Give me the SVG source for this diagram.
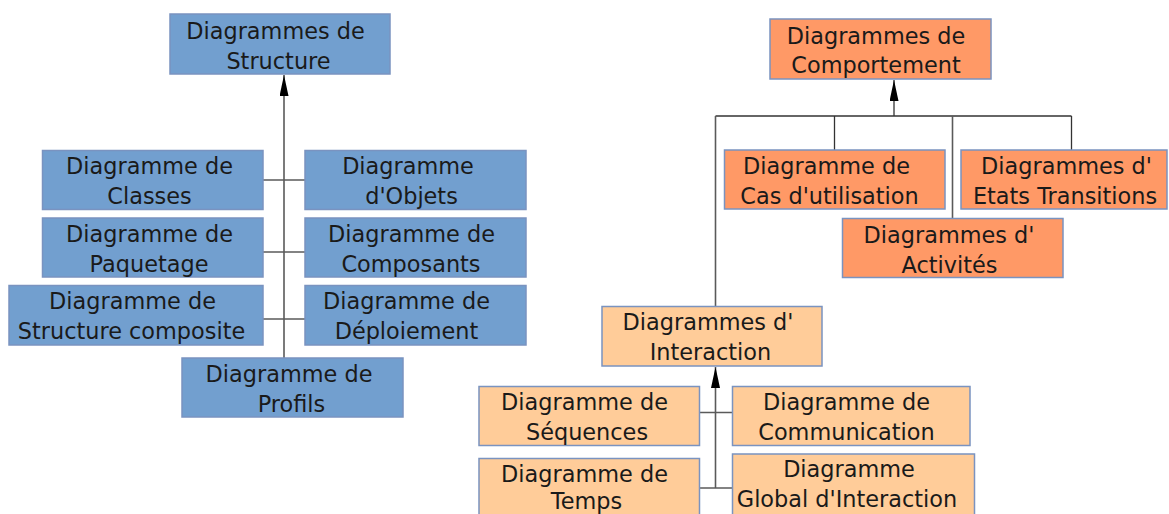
<svg xmlns="http://www.w3.org/2000/svg" width="1169" height="514" viewBox="0 0 1169 514">
<style>
  .box rect { stroke: #7a93c0; stroke-width: 1.5; }
  .blue rect { fill: #729fcf; }
  .dark rect { fill: #ff9966; }
  .light rect { fill: #ffcc99; }
  text { font-family: "DejaVu Sans", "Liberation Sans", sans-serif; font-size: 22.4px; fill: #1a1a1a; text-anchor: middle; }
  .conn line { stroke: #5a5a5a; stroke-width: 1.6; fill: none; }
  .conn line.dark { stroke: #333; stroke-width: 1.3; }
</style>
<defs>
  <marker id="arrow" markerUnits="userSpaceOnUse" markerWidth="21" markerHeight="9" viewBox="0 0 21 9" refX="21" refY="4.5" orient="auto">
    <path d="M0,0 L21,4.5 L0,9 z" fill="#000"/>
  </marker>
</defs>

<g id="connectors" class="conn">
  <line x1="284" y1="358" x2="284" y2="75" marker-end="url(#arrow)"/>
  <line x1="263" y1="180" x2="305" y2="180"/>
  <line x1="263" y1="252" x2="305" y2="252"/>
  <line x1="263" y1="319" x2="305" y2="319"/>

  <line x1="894" y1="116" x2="894" y2="80" marker-end="url(#arrow)"/>
  <line class="dark" x1="715.5" y1="116" x2="1071.5" y2="116"/>
  <line class="dark" x1="834.5" y1="116" x2="834.5" y2="150"/>
  <line x1="952.5" y1="116" x2="952.5" y2="218.5"/>
  <line class="dark" x1="1071.5" y1="116" x2="1071.5" y2="150"/>
  <line x1="715.5" y1="116" x2="715.5" y2="306.5"/>

  <line x1="715.5" y1="488" x2="715.5" y2="367" marker-end="url(#arrow)"/>
  <line x1="699.5" y1="412.5" x2="732.5" y2="412.5"/>
  <line x1="699.5" y1="488" x2="732.5" y2="488"/>
</g>

<g id="structure" class="box blue">
  <rect x="170" y="14" width="220" height="60"/>
  <text x="275.5" y="38.5">Diagrammes de</text>
  <text x="278.5" y="68.5">Structure</text>
</g>
<g id="classes" class="box blue">
  <rect x="42.5" y="150.5" width="220.5" height="59"/>
  <text x="149.5" y="174">Diagramme de</text>
  <text x="149.5" y="204">Classes</text>
</g>
<g id="objets" class="box blue">
  <rect x="305" y="150.5" width="221" height="59"/>
  <text x="408" y="174">Diagramme</text>
  <text x="411.5" y="204">d'Objets</text>
</g>
<g id="paquetage" class="box blue">
  <rect x="42.5" y="218" width="220.5" height="59"/>
  <text x="149.5" y="242">Diagramme de</text>
  <text x="149" y="272">Paquetage</text>
</g>
<g id="composants" class="box blue">
  <rect x="305" y="218" width="221" height="59"/>
  <text x="411.5" y="242">Diagramme de</text>
  <text x="411" y="272">Composants</text>
</g>
<g id="structure-composite" class="box blue">
  <rect x="9" y="285.5" width="254" height="59.5"/>
  <text x="132.5" y="309">Diagramme de</text>
  <text x="131.5" y="339">Structure composite</text>
</g>
<g id="deploiement" class="box blue">
  <rect x="305" y="285.5" width="221" height="59.5"/>
  <text x="406.5" y="309">Diagramme de</text>
  <text x="406.5" y="339">Déploiement</text>
</g>
<g id="profils" class="box blue">
  <rect x="182" y="358" width="221" height="59"/>
  <text x="289" y="381.5">Diagramme de</text>
  <text x="291.5" y="411.5">Profils</text>
</g>

<g id="comportement" class="box dark">
  <rect x="770" y="19" width="221" height="60"/>
  <text x="876" y="43.5">Diagrammes de</text>
  <text x="876" y="73">Comportement</text>
</g>
<g id="cas-utilisation" class="box dark">
  <rect x="724.5" y="150" width="220.5" height="59"/>
  <text x="826.5" y="174">Diagramme de</text>
  <text x="829.5" y="204">Cas d'utilisation</text>
</g>
<g id="etats-transitions" class="box dark">
  <rect x="961" y="150" width="206" height="59"/>
  <text x="1066.5" y="174">Diagrammes d'</text>
  <text x="1065" y="204">Etats Transitions</text>
</g>
<g id="activites" class="box dark">
  <rect x="842.5" y="218.5" width="220.5" height="59"/>
  <text x="949" y="242.5">Diagrammes d'</text>
  <text x="949.5" y="272.5">Activités</text>
</g>

<g id="interaction" class="box light">
  <rect x="602" y="306.5" width="220" height="59.5"/>
  <text x="708" y="330">Diagrammes d'</text>
  <text x="710.5" y="359.5">Interaction</text>
</g>
<g id="sequences" class="box light">
  <rect x="479" y="386.5" width="220.5" height="59"/>
  <text x="584.5" y="410">Diagramme de</text>
  <text x="587" y="440">Séquences</text>
</g>
<g id="communication" class="box light">
  <rect x="732.5" y="386.5" width="237.5" height="59"/>
  <text x="846.5" y="410">Diagramme de</text>
  <text x="846.5" y="440">Communication</text>
</g>
<g id="temps" class="box light">
  <rect x="479" y="458.5" width="220.5" height="60"/>
  <text x="584.5" y="482">Diagramme de</text>
  <text x="586.5" y="509">Temps</text>
</g>
<g id="global-interaction" class="box light">
  <rect x="732.5" y="454" width="242" height="62"/>
  <text x="849" y="477">Diagramme</text>
  <text x="847" y="507">Global d'Interaction</text>
</g>
</svg>
